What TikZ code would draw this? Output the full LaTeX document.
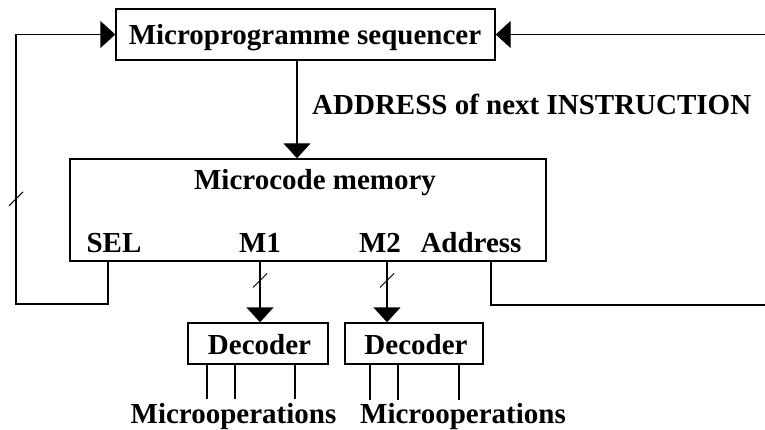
\documentclass[tikz,border=0pt]{standalone}
\usepackage{fontspec}
\setmainfont{Liberation Serif}
\usetikzlibrary{arrows.meta}
\begin{document}
\begin{tikzpicture}[x=1pt,y=-1pt,
  font=\fontsize{29}{34}\selectfont\bfseries,
  wire/.style={line width=1.4pt},
  arr/.style={wire,-{Triangle[length=15pt,width=27pt]}},
  block/.style={draw,line width=1.4pt,inner sep=0pt,rectangle},
  lbl/.style={anchor=base,inner sep=0pt},
  buswidth/.pic={\draw[line width=1pt,-] (-7,7) -- (7,-7);}
]
\useasboundingbox (0,0) rectangle (765,430);

% blocks
\node[block,minimum width=379pt,minimum height=51pt] (seq) at (305.5,34.5) {};
\node[lbl] (seqt) at (305,45) {Microprogramme sequencer};
\node[block,minimum width=476pt,minimum height=102pt] (mem) at (308,210) {};
\node[lbl] (memt) at (315,190) {Microcode memory};
\node[lbl] (sel) at (114,252) {SEL};
\node[lbl] (m1) at (260,252) {M1};
\node[lbl] (m2) at (380,252) {M2};
\node[lbl] (adr) at (471,252) {Address};
\node[block,minimum width=140pt,minimum height=41pt] (dec1) at (258,343.5) {};
\node[lbl] (dec1t) at (259.5,354) {Decoder};
\node[block,minimum width=138pt,minimum height=41pt] (dec2) at (414,343.5) {};
\node[lbl] (dec2t) at (416,354) {Decoder};
\node[lbl] (ops1) at (233.5,423) {Microoperations};
\node[lbl] (ops2) at (463,423) {Microoperations};
\node[anchor=base west,inner sep=0pt] (addrlbl) at (312,115) {ADDRESS of next INSTRUCTION};

% column positions of the ports
\coordinate (ax) at (297,0);
\coordinate (selx) at (108,0);
\coordinate (m1x) at (260,0);
\coordinate (m2x) at (387,0);
\coordinate (adx) at (491,0);

% loop-back corners and open ends
\coordinate (lb) at (16,304);
\coordinate (lt) at (16,34.5);
\coordinate (rb) at (491,305);
\coordinate (rbend) at (765,305);
\coordinate (rtend) at (765,34.5);

% sequencer -> memory
\draw[arr] (seq.south -| ax) -- (mem.north -| ax);
% SEL back to sequencer
\draw[arr] (mem.south -| selx) -- (selx |- lb) -- (lb) -- pic[pos=0.39]{buswidth} (lt) -- (seq.west);
% address field out to the right
\draw[wire] (mem.south -| adx) -- (rb) -- (rbend);
\draw[arr] (rtend) -- (seq.east);
% micro-fields to decoders
\draw[arr] (mem.south -| m1x) -- pic[pos=0.31]{buswidth} (dec1.north -| m1x);
\draw[arr] (mem.south -| m2x) -- pic[pos=0.31]{buswidth} (dec2.north -| m2x);

% decoder outputs
\foreach \x/\n in {207/a,235/b,295/c}{
  \coordinate (o1\n) at (\x,399);
  \draw[wire] (dec1.south -| o1\n) -- (o1\n);
}
\foreach \x/\n in {370/a,398/b,459/c}{
  \coordinate (o2\n) at (\x,400);
  \draw[wire] (dec2.south -| o2\n) -- (o2\n);
}
\end{tikzpicture}
\end{document}
